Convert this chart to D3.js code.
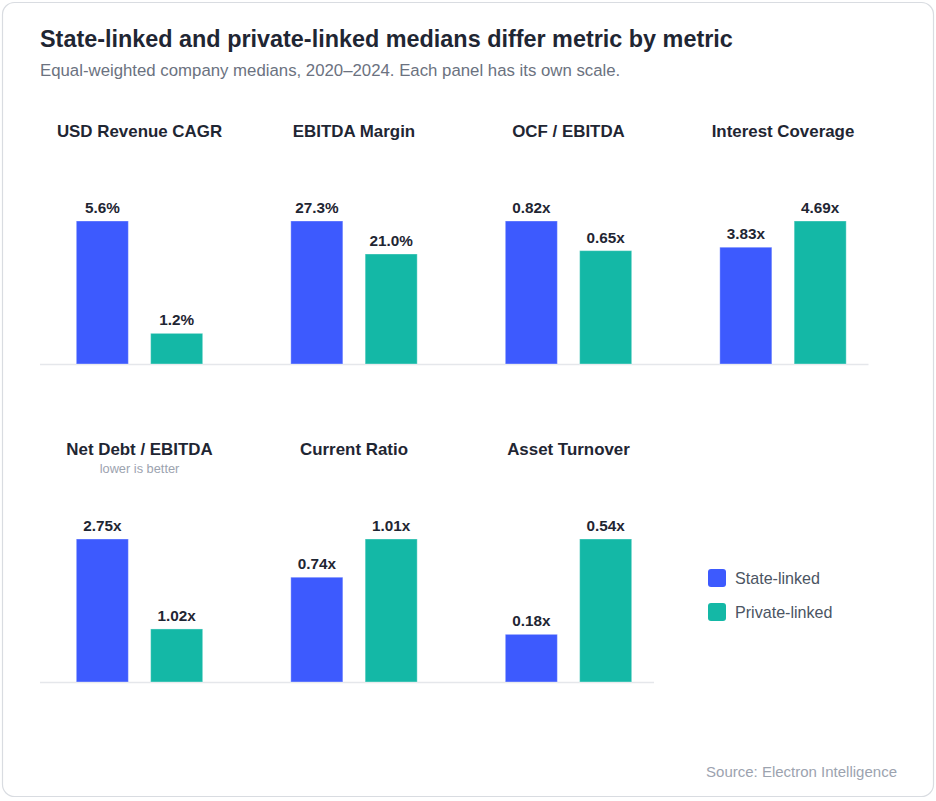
<!DOCTYPE html>
<html>
<head>
<meta charset="utf-8">
<script src="https://cdn.jsdelivr.net/npm/d3@7"></script>
<style>
  html, body { margin: 0; padding: 0; background: #ffffff; }
  svg { display: block; font-family: "Liberation Sans", Arial, Helvetica, sans-serif; }
</style>
</head>
<body>
<svg id="chart" width="936" height="801"></svg>
<script>
// ---- data ----
const metrics = ["USD Revenue CAGR", "EBITDA Margin", "OCF / EBITDA", "Interest Coverage",
                 "Net Debt / EBITDA", "Current Ratio", "Asset Turnover"];
const notes = ["", "", "", "", "lower is better", "", ""];
const stateLinked = [5.6, 27.3, 0.82, 3.83, 2.75, 0.74, 0.18];
const privateLinked = [1.2, 21.0, 0.65, 4.69, 1.02, 1.01, 0.54];
const stateLabels = ["5.6%", "27.3%", "0.82x", "3.83x", "2.75x", "0.74x", "0.18x"];
const privateLabels = ["1.2%", "21.0%", "0.65x", "4.69x", "1.02x", "1.01x", "0.54x"];
const seriesNames = ["State-linked", "Private-linked"];
const seriesColors = ["#3d5afe", "#14b8a6"];

const svg = d3.select("#chart");

// card
svg.append("rect").attr("x", 2.5).attr("y", 2.5).attr("width", 931).attr("height", 794)
  .attr("rx", 12).attr("fill", "#ffffff").attr("stroke", "#d9dce1").attr("stroke-width", 1.2);

svg.append("text").attr("x", 40).attr("y", 47)
  .attr("font-size", 23.4).attr("font-weight", 700).attr("fill", "#1f2633")
  .text("State-linked and private-linked medians differ metric by metric");
svg.append("text").attr("x", 40).attr("y", 76)
  .attr("font-size", 16.8).attr("fill", "#6b7280")
  .text("Equal-weighted company medians, 2020\u20132024. Each panel has its own scale.");

// layout
const cols = 4;
const pitch = 214.5, panelW = 185, innerLeft = 14;
const rowBase = [364, 682];
const plotH = 143;

const colX = i => 40 + i * pitch;

// row axis lines
[0, 1].forEach(r => {
  const n = r === 0 ? 4 : 3;
  svg.append("line").attr("x1", 40).attr("x2", colX(n - 1) + panelW)
    .attr("y1", rowBase[r] + 0.5).attr("y2", rowBase[r] + 0.5)
    .attr("stroke", "#e5e7eb").attr("stroke-width", 1.5);
});

metrics.forEach((m, i) => {
  const r = Math.floor(i / cols), c = i % cols;
  const x0 = colX(c);
  const base = rowBase[r];
  const g = svg.append("g");
  const xb = d3.scaleBand().domain(seriesNames)
    .range([x0 + innerLeft, x0 + panelW]).paddingInner(0.3).paddingOuter(0.3);
  const vals = [stateLinked[i], privateLinked[i]];
  const labs = [stateLabels[i], privateLabels[i]];
  const y = d3.scaleLinear().domain([0, d3.max(vals)]).range([base, base - plotH]);
  const cx = x0 + innerLeft + (panelW - innerLeft) / 2;

  g.append("text").attr("x", cx).attr("y", base - 227).attr("text-anchor", "middle")
    .attr("font-size", 16.9).attr("font-weight", 700).attr("fill", "#1f2633").text(m);
  if (notes[i]) {
    g.append("text").attr("x", cx).attr("y", base - 209).attr("text-anchor", "middle")
      .attr("font-size", 12.8).attr("fill", "#9ca3af").text(notes[i]);
  }
  g.selectAll("rect.bar").data(vals).join("rect").attr("class", "bar")
    .attr("x", (d, k) => xb(seriesNames[k]))
    .attr("width", xb.bandwidth())
    .attr("y", d => y(d))
    .attr("height", d => base - y(d))
    .attr("fill", (d, k) => seriesColors[k])
    .attr("stroke", "rgba(255,255,255,0.35)").attr("stroke-width", 1);
  g.selectAll("text.val").data(vals).join("text").attr("class", "val")
    .attr("x", (d, k) => xb(seriesNames[k]) + xb.bandwidth() / 2)
    .attr("y", d => y(d) - 8)
    .attr("text-anchor", "middle")
    .attr("font-size", 15.3).attr("font-weight", 700).attr("fill", "#1f2633")
    .text((d, k) => labs[k]);
});

// legend
const lg = svg.append("g");
seriesNames.forEach((s, k) => {
  const ly = 569 + k * 34;
  lg.append("rect").attr("x", 708).attr("y", ly).attr("width", 18).attr("height", 18)
    .attr("rx", 3).attr("fill", seriesColors[k]);
  lg.append("text").attr("x", 735).attr("y", ly + 14.5).attr("font-size", 16.1)
    .attr("fill", "#4b5563").text(s);
});

svg.append("text").attr("x", 897).attr("y", 777).attr("text-anchor", "end")
  .attr("font-size", 15).attr("fill", "#9ca3af").text("Source: Electron Intelligence");
</script>
</body>
</html>
